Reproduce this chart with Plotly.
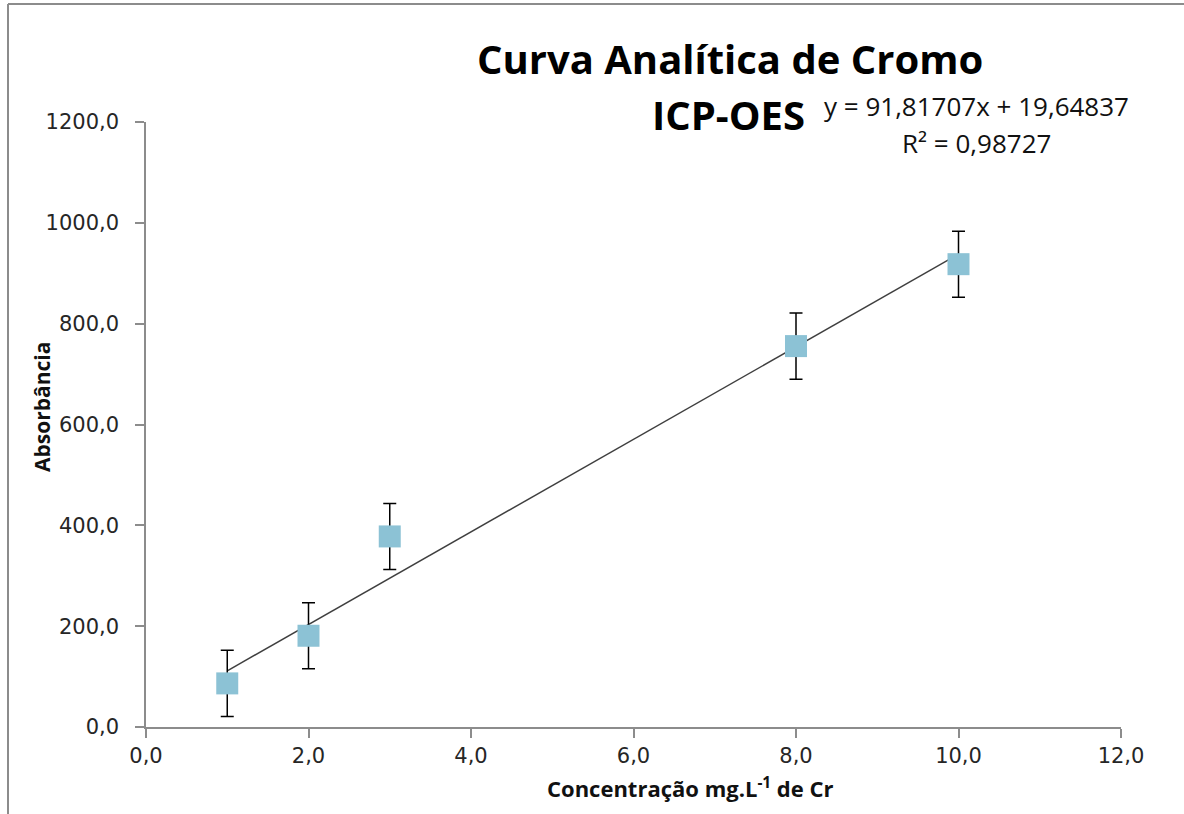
import plotly.graph_objects as go

# Calibration data: chromium standards measured by ICP-OES
concentracao = [1.0, 2.0, 3.0, 8.0, 10.0]          # mg/L Cr
absorbancia = [86.5, 181.0, 378.0, 755.5, 918.0]
desvio = [65.5, 65.5, 65.5, 65.5, 65.5]

# Linear fit reported for the curve
inclinacao = 91.81707
intercepto = 19.64837
r2 = 0.98727

x_ticks = [0, 2, 4, 6, 8, 10, 12]
y_ticks = [0, 200, 400, 600, 800, 1000, 1200]

W, H = 1184, 814
ML, MR, MT, MB = 146, 63, 122, 87
PW, PH = W - ML - MR, H - MT - MB


def px(xp):
    return (xp - ML) / PW


def py(yp):
    return (H - MB - yp) / PH


x_fit = [min(concentracao), max(concentracao)]
y_fit = [inclinacao * v + intercepto for v in x_fit]

fig = go.Figure()

fig.add_trace(go.Scatter(
    x=x_fit, y=y_fit, mode="lines",
    line=dict(color="#3f3f3f", width=1.5),
    hoverinfo="skip", showlegend=False,
))

fig.add_trace(go.Scatter(
    x=concentracao, y=absorbancia, mode="markers",
    marker=dict(symbol="square", size=22, color="#8cc2d5", line=dict(width=0)),
    error_y=dict(type="data", array=desvio, visible=True,
                 color="#000000", thickness=1.5, width=6.5),
    showlegend=False,
))

axis_font = dict(family="DejaVu Sans", size=21, color="#262626")
title_family = "Open Sans"

fig.update_layout(
    width=W, height=H,
    margin=dict(l=ML, r=MR, t=MT, b=MB),
    paper_bgcolor="white", plot_bgcolor="white",
    separators=",.",
    xaxis=dict(
        range=[0, 12], tickvals=x_ticks, tickformat=".1f",
        showline=True, linecolor="#8c8c8c", linewidth=1.5,
        ticks="outside", ticklen=9, tickcolor="#8c8c8c", tickwidth=1.5,
        ticklabelstandoff=0,
        showgrid=False, zeroline=False, tickfont=axis_font,
    ),
    yaxis=dict(
        range=[0, 1200], tickvals=y_ticks, tickformat=".1f",
        showline=True, linecolor="#8c8c8c", linewidth=1.5,
        ticks="outside", ticklen=9, tickcolor="#8c8c8c", tickwidth=1.5,
        ticklabelstandoff=12,
        showgrid=False, zeroline=False, tickfont=axis_font,
    ),
    annotations=[
        dict(text="<b>Curva Analítica de Cromo</b>", x=px(730), y=py(58),
             xref="paper", yref="paper", showarrow=False,
             xanchor="center", yanchor="middle",
             font=dict(family=title_family, size=40, color="#000000")),
        dict(text="<b>ICP-OES</b>", x=px(728), y=py(115),
             xref="paper", yref="paper", showarrow=False,
             xanchor="center", yanchor="middle",
             font=dict(family=title_family, size=40, color="#000000")),
        dict(text=f"y = {inclinacao:.5f}x + {intercepto:.5f}".replace(".", ","),
             x=px(976), y=py(106), xref="paper", yref="paper", showarrow=False,
             xanchor="center", yanchor="middle",
             font=dict(family="Open Sans", size=26, color="#111111")),
        dict(text=f"R² = {r2:.5f}".replace(".", ","),
             x=px(976), y=py(143), xref="paper", yref="paper", showarrow=False,
             xanchor="center", yanchor="middle",
             font=dict(family="Open Sans", size=26, color="#111111")),
        # axis titles
        dict(text="<b>Concentração mg.L<sup>-1</sup> de Cr</b>", x=px(690), y=py(787),
             xref="paper", yref="paper", showarrow=False,
             xanchor="center", yanchor="middle",
             font=dict(family=title_family, size=22, color="#111111")),
        dict(text="<b>Absorbância</b>", x=px(42), y=py(407), textangle=-90,
             xref="paper", yref="paper", showarrow=False,
             xanchor="center", yanchor="middle",
             font=dict(family=title_family, size=21, color="#111111")),
    ],
    shapes=[
        # chart frame (left and top edges)
        dict(type="line", xref="paper", yref="paper",
             x0=px(8), x1=px(8), y0=py(4), y1=py(H + 5),
             line=dict(color="#8c8c8c", width=2)),
        dict(type="line", xref="paper", yref="paper",
             x0=px(8), x1=px(W + 5), y0=py(4), y1=py(4),
             line=dict(color="#8c8c8c", width=2)),
    ],
)

fig.write_html("out.html")
